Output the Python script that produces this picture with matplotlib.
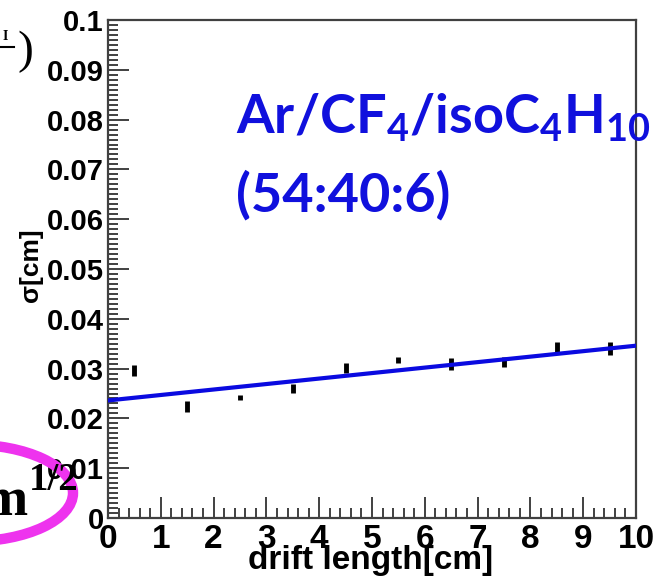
import matplotlib
matplotlib.use('Agg')
import matplotlib.pyplot as plt
from matplotlib.patches import Ellipse
from matplotlib.lines import Line2D
from matplotlib.ticker import MultipleLocator, FuncFormatter
import numpy as np

# measured resolution vs drift length
drift_cm = [0.5, 1.5, 2.5, 3.5, 4.5, 5.5, 6.5, 7.5, 8.5, 9.5]
sigma_cm = [0.0296, 0.0224, 0.0242, 0.0260, 0.0301, 0.0318, 0.0309, 0.0314, 0.0344, 0.0341]
sigma_err = [0.0011, 0.0011, 0.0005, 0.0009, 0.0010, 0.0006, 0.0012, 0.0010, 0.0010, 0.0013]

# linear fit parameters (sigma = p0 + p1 * L)
fit_p0 = 0.0236
fit_p1 = 0.00110

W, H = 661, 580
plt.rcParams['font.family'] = ['Liberation Sans', 'DejaVu Sans']
plt.rcParams['font.weight'] = 'bold'

fig = plt.figure(figsize=(W / 100, H / 100), dpi=100)

def fx(px):
    return px / W

def fy(py):
    return 1 - py / H

ax = fig.add_axes([fx(108), fy(518), (636 - 108) / W, (518 - 20) / H])

ax.errorbar(drift_cm, sigma_cm, yerr=sigma_err, fmt='none', ecolor='black',
            elinewidth=3.5, capsize=0, zorder=3)
xs = np.array([0.0, 10.0])
ax.plot(xs, fit_p0 + fit_p1 * xs, color='#0a0ae0', lw=3, zorder=4)

ax.set_xlim(0, 10)
ax.set_ylim(0, 0.1)
ax.xaxis.set_major_locator(MultipleLocator(1))
ax.xaxis.set_minor_locator(MultipleLocator(0.2))
ax.yaxis.set_major_locator(MultipleLocator(0.01))
ax.yaxis.set_minor_locator(MultipleLocator(0.001))
ax.yaxis.set_major_formatter(FuncFormatter(lambda v, p: f'{v:g}'))
ax.xaxis.set_major_formatter(FuncFormatter(lambda v, p: f'{v:g}'))

spine_col = '#404040'
for s in ax.spines.values():
    s.set_color(spine_col)
    s.set_linewidth(1.6)
ax.tick_params(which='both', direction='in', color=spine_col, width=1.4,
               top=False, right=False)
ax.tick_params(which='major', length=15)
ax.tick_params(which='minor', length=7)
ax.tick_params(axis='x', labelsize=24, pad=4)
ax.tick_params(axis='y', labelsize=21, pad=3)

fig.text(fx(371), fy(561), 'drift length[cm]', ha='center', va='center',
         fontsize=24, fontweight='bold')
fig.text(fx(31), fy(265), 'σ[cm]', rotation=90, ha='center', va='center',
         fontsize=19, fontweight='bold')

blue = '#1010dd'
fig.text(fx(236), fy(133), r'Ar/CF$_\mathregular{4}$/isoC$_\mathregular{4}$H$_\mathregular{10}$',
         fontsize=39, fontfamily='Lato', fontweight='bold', color=blue,
         ha='left', va='baseline')
fig.text(fx(236), fy(212), '(54:40:6)', fontsize=39, fontfamily='Lato',
         fontweight='bold', color=blue, ha='left', va='baseline')

# slide leftovers at the left edge
fig.text(fx(25), fy(52), ')', fontsize=34, fontfamily='Liberation Serif',
         fontweight='normal', ha='center', va='center')
fig.add_artist(Line2D([0, fx(14)], [fy(47), fy(47)], color='black', lw=1.5))
fig.text(fx(5), fy(36), 'I', fontsize=10, fontfamily='Liberation Serif',
         ha='center', va='center')
fig.text(fx(-17), fy(515), 'm', fontsize=39, fontfamily='Liberation Serif',
         fontweight='bold', ha='left', va='baseline')
fig.text(fx(29), fy(490), '1/2', fontsize=28, fontfamily='Liberation Serif',
         fontweight='bold', ha='left', va='baseline')
fig.add_artist(Ellipse((fx(-30), fy(493)), 206 / W, 97 / H, fill=False,
                       edgecolor='#ee33ee', lw=7.5))

fig.savefig('out.png', dpi=100, facecolor='white')
